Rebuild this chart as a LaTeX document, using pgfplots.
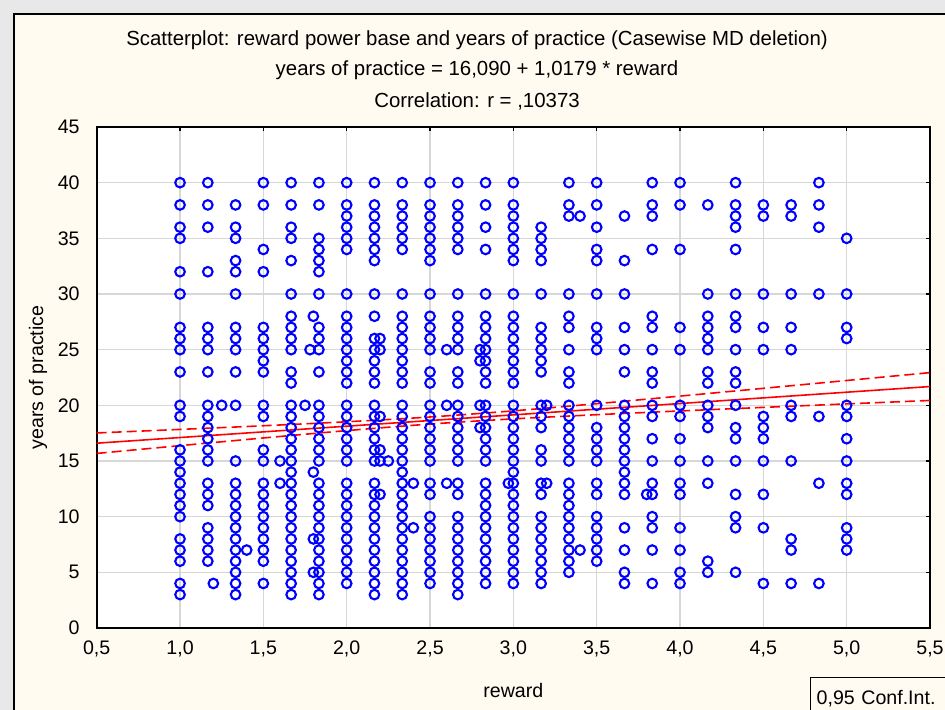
\documentclass[border=0pt]{standalone}
\usepackage{fontspec}
\setmainfont{Liberation Sans}
\usepackage{pgfplots}
\pgfplotsset{compat=1.18}

\definecolor{cream}{RGB}{255,251,240}
\definecolor{outergray}{RGB}{232,232,232}
\definecolor{gridgray}{RGB}{215,215,215}
\definecolor{ptblue}{RGB}{0,0,255}
\definecolor{fitred}{RGB}{255,0,0}

\newcommand{\chartfont}{\fontsize{9.8pt}{11.5pt}\selectfont}
\newcommand{\titlefont}{\fontsize{10.2pt}{12pt}\selectfont}

\begin{document}
\begin{tikzpicture}[x=1pt,y=1pt,font=\chartfont]
\useasboundingbox (0,0) rectangle (472.5,355);
\clip (0,0) rectangle (472.5,355);
\fill[outergray] (0,0) rectangle (472.5,355);
\fill[cream] (7,0) rectangle (472.5,348);
\draw[line width=0.8pt] (7,0) -- (7,348) -- (472.5,348);

% titles
\node[font=\titlefont] at (238.5,335) {Scatterplot: reward power base and years of practice (Casewise MD deletion)};
\node[font=\titlefont] at (238.5,320) {years of practice = 16,090 + 1,0179 * reward};
\node[font=\titlefont] at (238.5,304.5) {Correlation: r = ,10373};

\begin{axis}[
  at={(48.35pt,41pt)}, anchor=south west,
  width=416.65pt, height=250.5pt, scale only axis,
  xmin=0.5, xmax=5.5, ymin=0, ymax=45,
  xtick={0.5,1,...,5.5},
  ytick={0,5,...,45},
  axis background/.style={fill=white},
  axis line style={line width=0.9pt},
  grid=major,
  major grid style={gridgray, line width=0.6pt},
  tick align=inside,
  xtick pos=right, ytick pos=right,
  xticklabel pos=left, yticklabel pos=left,
  major tick length=2pt,
  tick style={black, line width=0.8pt},
  /pgf/number format/assume math mode=true,
  xticklabel style={yshift=-3pt, /pgf/number format/fixed, /pgf/number format/fixed zerofill, /pgf/number format/precision=1, /pgf/number format/use comma},
  tick label style={font=\chartfont},
  yticklabel style={xshift=-5pt},
  xlabel={reward},
  ylabel={years of practice},
  xlabel style={at={(axis description cs:0.5,-0.124)}, anchor=center, font=\chartfont},
  ylabel style={at={(axis description cs:-0.0704,0.5)}, anchor=center, font=\chartfont},
  clip=true,
]

\addplot[only marks, mark=o, mark size=2.4pt, ptblue, mark options={line width=1.05pt}] coordinates {
(1,40)(1,38)(1,36)(1,35)(1,32)(1,30)(1,27)(1,26)(1,25)(1,23)(1,20)(1,19)(1,16)(1,15)(1,14)(1,13)(1,12)(1,11)(1,10)(1,8)(1,7)(1,6)(1,4)(1,3)
(1.1667,40)(1.1667,38)(1.1667,36)(1.1667,32)(1.1667,27)(1.1667,26)(1.1667,25)(1.1667,23)(1.1667,20)(1.1667,19)(1.1667,18)(1.1667,17)(1.1667,16)(1.1667,15)(1.1667,13)(1.1667,12)(1.1667,11)(1.1667,9)(1.1667,8)(1.1667,7)(1.1667,6)
(1.2,4)(1.25,20)
(1.3333,38)(1.3333,36)(1.3333,35)(1.3333,33)(1.3333,32)(1.3333,30)(1.3333,27)(1.3333,26)(1.3333,25)(1.3333,23)(1.3333,20)(1.3333,15)(1.3333,13)(1.3333,12)(1.3333,11)(1.3333,10)(1.3333,9)(1.3333,8)(1.3333,7)(1.3333,6)(1.3333,5)(1.3333,4)(1.3333,3)
(1.4,7)
(1.5,40)(1.5,38)(1.5,34)(1.5,32)(1.5,27)(1.5,26)(1.5,25)(1.5,24)(1.5,23)(1.5,20)(1.5,19)(1.5,16)(1.5,15)(1.5,13)(1.5,12)(1.5,11)(1.5,10)(1.5,9)(1.5,8)(1.5,7)(1.5,6)(1.5,4)
(1.6,15)(1.6,13)
(1.6667,40)(1.6667,38)(1.6667,36)(1.6667,35)(1.6667,33)(1.6667,30)(1.6667,28)(1.6667,27)(1.6667,26)(1.6667,25)(1.6667,23)(1.6667,22)(1.6667,20)(1.6667,19)(1.6667,18)(1.6667,17)(1.6667,16)(1.6667,15)(1.6667,14)(1.6667,13)(1.6667,12)(1.6667,11)(1.6667,10)(1.6667,9)(1.6667,8)(1.6667,7)(1.6667,6)(1.6667,5)(1.6667,4)(1.6667,3)
(1.75,20)(1.8,28)(1.8,14)(1.78,25)(1.8,8)(1.8,5)
(1.8333,40)(1.8333,38)(1.8333,35)(1.8333,34)(1.8333,33)(1.8333,32)(1.8333,30)(1.8333,27)(1.8333,26)(1.8333,25)(1.8333,23)(1.8333,20)(1.8333,19)(1.8333,18)(1.8333,17)(1.8333,16)(1.8333,15)(1.8333,13)(1.8333,12)(1.8333,11)(1.8333,10)(1.8333,9)(1.8333,8)(1.8333,7)(1.8333,6)(1.8333,5)(1.8333,4)(1.8333,3)
(2,40)(2,38)(2,37)(2,36)(2,35)(2,34)(2,30)(2,28)(2,27)(2,26)(2,25)(2,24)(2,23)(2,22)(2,20)(2,19)(2,18)(2,17)(2,16)(2,15)(2,13)(2,12)(2,11)(2,10)(2,9)(2,8)(2,7)(2,6)(2,5)(2,4)
(2.1667,40)(2.1667,38)(2.1667,37)(2.1667,36)(2.1667,35)(2.1667,34)(2.1667,33)(2.1667,30)(2.1667,28)(2.1667,26)(2.1667,25)(2.1667,24)(2.1667,23)(2.1667,22)(2.1667,20)(2.1667,19)(2.1667,18)(2.1667,17)(2.1667,16)(2.1667,15)(2.1667,13)(2.1667,12)(2.1667,11)(2.1667,10)(2.1667,9)(2.1667,8)(2.1667,7)(2.1667,6)(2.1667,5)(2.1667,4)(2.1667,3)
(2.2,26)(2.2,25)(2.2,19)(2.2,16)(2.2,15)(2.2,12)(2.25,15)
(2.3333,40)(2.3333,38)(2.3333,37)(2.3333,36)(2.3333,35)(2.3333,34)(2.3333,30)(2.3333,28)(2.3333,27)(2.3333,26)(2.3333,25)(2.3333,24)(2.3333,23)(2.3333,22)(2.3333,20)(2.3333,19)(2.3333,18)(2.3333,17)(2.3333,16)(2.3333,15)(2.3333,14)(2.3333,13)(2.3333,12)(2.3333,11)(2.3333,10)(2.3333,9)(2.3333,8)(2.3333,7)(2.3333,6)(2.3333,5)(2.3333,4)(2.3333,3)
(2.4,13)(2.4,9)
(2.5,40)(2.5,38)(2.5,37)(2.5,36)(2.5,35)(2.5,34)(2.5,33)(2.5,30)(2.5,28)(2.5,27)(2.5,26)(2.5,25)(2.5,23)(2.5,22)(2.5,20)(2.5,19)(2.5,18)(2.5,17)(2.5,16)(2.5,15)(2.5,13)(2.5,12)(2.5,10)(2.5,9)(2.5,8)(2.5,7)(2.5,6)(2.5,5)(2.5,4)
(2.6,25)(2.6,20)(2.6,13)
(2.6667,40)(2.6667,38)(2.6667,37)(2.6667,36)(2.6667,35)(2.6667,34)(2.6667,30)(2.6667,28)(2.6667,27)(2.6667,26)(2.6667,25)(2.6667,23)(2.6667,22)(2.6667,20)(2.6667,19)(2.6667,18)(2.6667,17)(2.6667,16)(2.6667,15)(2.6667,13)(2.6667,12)(2.6667,10)(2.6667,9)(2.6667,8)(2.6667,7)(2.6667,6)(2.6667,5)(2.6667,4)(2.6667,3)
(2.8333,40)(2.8333,38)(2.8333,36)(2.8333,34)(2.8333,30)(2.8333,28)(2.8333,27)(2.8333,26)(2.8333,25)(2.8333,24)(2.8333,23)(2.8333,22)(2.8333,20)(2.8333,19)(2.8333,18)(2.8333,17)(2.8333,16)(2.8333,15)(2.8333,13)(2.8333,12)(2.8333,11)(2.8333,10)(2.8333,9)(2.8333,8)(2.8333,7)(2.8333,6)(2.8333,5)(2.8333,4)
(2.8,25)(2.8,24)(2.8,20)(2.8,18)
(3,40)(3,38)(3,37)(3,36)(3,35)(3,34)(3,33)(3,30)(3,28)(3,27)(3,26)(3,25)(3,24)(3,23)(3,22)(3,20)(3,19)(3,18)(3,17)(3,16)(3,15)(3,14)(3,13)(3,12)(3,11)(3,10)(3,9)(3,8)(3,7)(3,6)(3,5)(3,4)
(2.97,13)
(3.1667,36)(3.1667,35)(3.1667,34)(3.1667,33)(3.1667,30)(3.1667,27)(3.1667,26)(3.1667,25)(3.1667,24)(3.1667,23)(3.1667,20)(3.1667,19)(3.1667,18)(3.1667,16)(3.1667,15)(3.1667,13)(3.1667,12)(3.1667,10)(3.1667,9)(3.1667,8)(3.1667,7)(3.1667,6)(3.1667,5)(3.1667,4)
(3.2,20)(3.2,13)
(3.3333,40)(3.3333,38)(3.3333,37)(3.3333,30)(3.3333,28)(3.3333,27)(3.3333,25)(3.3333,23)(3.3333,22)(3.3333,20)(3.3333,19)(3.3333,18)(3.3333,17)(3.3333,16)(3.3333,15)(3.3333,13)(3.3333,12)(3.3333,11)(3.3333,10)(3.3333,9)(3.3333,8)(3.3333,7)(3.3333,6)(3.3333,5)
(3.4,37)(3.4,7)
(3.5,40)(3.5,38)(3.5,36)(3.5,34)(3.5,33)(3.5,30)(3.5,27)(3.5,26)(3.5,25)(3.5,20)(3.5,18)(3.5,17)(3.5,16)(3.5,15)(3.5,13)(3.5,12)(3.5,10)(3.5,9)(3.5,8)(3.5,7)(3.5,6)
(3.6667,37)(3.6667,33)(3.6667,30)(3.6667,27)(3.6667,25)(3.6667,23)(3.6667,20)(3.6667,19)(3.6667,18)(3.6667,17)(3.6667,16)(3.6667,15)(3.6667,14)(3.6667,13)(3.6667,12)(3.6667,9)(3.6667,7)(3.6667,5)(3.6667,4)
(3.8333,40)(3.8333,38)(3.8333,37)(3.8333,34)(3.8333,28)(3.8333,27)(3.8333,25)(3.8333,23)(3.8333,22)(3.8333,20)(3.8333,19)(3.8333,17)(3.8333,15)(3.8333,13)(3.8333,12)(3.8333,10)(3.8333,9)(3.8333,7)(3.8333,4)
(3.8,12)
(4,40)(4,38)(4,34)(4,27)(4,25)(4,20)(4,19)(4,17)(4,15)(4,13)(4,12)(4,9)(4,7)(4,5)(4,4)
(4.1667,38)(4.1667,30)(4.1667,28)(4.1667,27)(4.1667,26)(4.1667,25)(4.1667,23)(4.1667,22)(4.1667,20)(4.1667,19)(4.1667,18)(4.1667,15)(4.1667,13)(4.1667,6)(4.1667,5)
(4.3333,40)(4.3333,38)(4.3333,37)(4.3333,36)(4.3333,34)(4.3333,30)(4.3333,28)(4.3333,27)(4.3333,25)(4.3333,23)(4.3333,22)(4.3333,20)(4.3333,18)(4.3333,17)(4.3333,15)(4.3333,12)(4.3333,10)(4.3333,9)(4.3333,5)
(4.5,38)(4.5,37)(4.5,30)(4.5,27)(4.5,25)(4.5,19)(4.5,18)(4.5,17)(4.5,15)(4.5,12)(4.5,9)(4.5,4)
(4.6667,38)(4.6667,37)(4.6667,30)(4.6667,27)(4.6667,25)(4.6667,20)(4.6667,19)(4.6667,15)(4.6667,8)(4.6667,7)(4.6667,4)
(4.8333,40)(4.8333,38)(4.8333,36)(4.8333,30)(4.8333,19)(4.8333,13)(4.8333,4)
(5,35)(5,30)(5,27)(5,26)(5,20)(5,19)(5,17)(5,15)(5,13)(5,12)(5,9)(5,8)(5,7)
};

% regression line
\addplot[fitred, line width=0.8pt] coordinates {(0.5,16.599)(5.5,21.688)};
% 0.95 confidence band
\addplot[fitred, line width=0.8pt, dash pattern=on 5pt off 2.5pt, smooth] coordinates {
(0.5,17.519)(1,17.837)(1.5,18.166)(2,18.524)(2.5,18.953)(3,19.504)(3.5,20.148)(4,20.829)(4.5,21.527)(5,22.231)(5.5,22.938)};
\addplot[fitred, line width=0.8pt, dash pattern=on 5pt off 2.5pt, smooth] coordinates {
(0.5,15.679)(1,16.379)(1.5,17.068)(2,17.728)(2.5,18.317)(3,18.784)(3.5,19.158)(4,19.495)(4.5,19.815)(5,20.129)(5.5,20.438)};
\end{axis}

\node[draw, line width=0.7pt, anchor=north west, minimum height=21pt, text width=76pt, inner sep=3pt, align=left] at (405,16.5) {0,95 Conf.Int.};
\end{tikzpicture}
\end{document}
